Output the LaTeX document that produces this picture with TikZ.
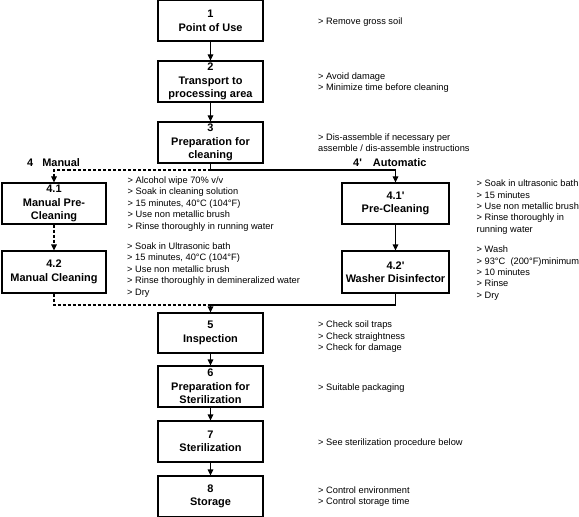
\documentclass[tikz,border=0pt]{standalone}
\usepackage{fontspec}
\setmainfont{Liberation Sans}
\usetikzlibrary{arrows.meta}
\newcommand{\notelines}[1]{\begin{tabular}[t]{@{}l@{}}#1\end{tabular}}
\begin{document}
\begin{tikzpicture}[x=1bp,y=-1bp,
  box/.style={draw, line width=1.1bp, align=center, inner sep=0pt,
    font=\fontsize{11}{13.5}\selectfont\bfseries, minimum width=105bp, minimum height=41bp,
    execute at begin node={\rule{0pt}{11bp}}},
  note/.style={anchor=base west, inner sep=0pt, font=\fontsize{9.3}{11.5}\selectfont},
  grp/.style={anchor=base west, inner sep=0pt, font=\fontsize{11}{13.5}\selectfont\bfseries},
  link/.style={line width=1.1bp},
  arr/.style={link, -{Triangle[width=5.5bp,length=6bp]}},
  dsh/.style={dash pattern=on 3bp off 2bp},
]
\useasboundingbox (0,0) rectangle (579,517);
% central boxes
\node[box, minimum height=40.5bp] (b1) at (210.5,20.75) {1\\Point of Use};
\node[box] (b2) at (210.5,81.5) {2\\Transport to\\processing area};
\node[box] (b3) at (210.5,142.5) {3\\Preparation for\\cleaning};
\node[box, minimum width=104bp] (b41) at (54,203.5) {4.1\\Manual Pre-\\Cleaning};
\node[box, minimum width=104bp, minimum height=42bp] (b42) at (54,272) {4.2\\Manual Cleaning};
\node[box, minimum width=107bp] (b41p) at (395.5,203.5) {4.1\textquotesingle\\Pre-Cleaning};
\node[box, minimum width=107bp, minimum height=42bp] (b42p) at (395.5,272) {4.2\textquotesingle\\Washer Disinfector};
\node[box, minimum height=40bp] (b5) at (210.5,333) {5\\Inspection};
\node[box] (b6) at (210.5,386.5) {6\\Preparation for\\Sterilization};
\node[box] (b7) at (210.5,441.5) {7\\Sterilization};
\node[box, minimum height=40.5bp] (b8) at (210.5,496.25) {8\\Storage};
% group labels
\node[grp] (gm) at (27,166.3) {4\hspace{9bp}Manual};
\node[grp] (ga) at (353,166.3) {4\textquotesingle\hspace{11bp}Automatic};
% notes
\node[note] (n1) at (318,24.3) {\notelines{> Remove gross soil}};
\node[note] (n2) at (318,79.3) {\notelines{> Avoid damage\\> Minimize time before cleaning}};
\node[note] (n3) at (318,140.3) {\notelines{> Dis-assemble if necessary per\\assemble / dis-assemble instructions}};
\node[note] (nl1) at (127.5,183.3) {\notelines{> Alcohol wipe 70\% v/v\\> Soak in cleaning solution\\> 15 minutes, 40°C (104°F)\\> Use non metallic brush\\> Rinse thoroughly in running water}};
\node[note] (nl2) at (127,249.3) {\notelines{> Soak in Ultrasonic bath\\> 15 minutes, 40°C (104°F)\\> Use non metallic brush\\> Rinse thoroughly in demineralized water\\> Dry}};
\node[note] (nr1) at (476.5,186.6) {\notelines{> Soak in ultrasonic bath\\> 15 minutes\\> Use non metallic brush\\> Rinse thoroughly in\\running water}};
\node[note] (nr2) at (476.5,252.6) {\notelines{> Wash\\> 93°C\ \ (200°F)minimum\\> 10 minutes\\> Rinse\\> Dry}};
\node[note] (n5) at (318,327.6) {\notelines{> Check soil traps\\> Check straightness\\> Check for damage}};
\node[note] (n6) at (318,390.6) {\notelines{> Suitable packaging}};
\node[note] (n7) at (318,445) {\notelines{> See sterilization procedure below}};
\node[note] (n8) at (318,493.3) {\notelines{> Control environment\\> Control storage time}};
% connectors
\draw[arr] (b1.south) -- (b2.north);
\draw[arr] (b2.south) -- (b3.north);
\coordinate (split) at (210.5,170);
\draw[link] (b3.south) -- (split);
\draw[arr,dsh] (split) -| (b41.north);
\draw[arr] (split) -| (b41p.north);
\draw[arr,dsh] (b41.south) -- (b42.north);
\draw[arr] (b41p.south) -- (b42p.north);
\coordinate (join) at (210.5,305);
\draw[link,dsh] (b42.south) |- (join);
\draw[link] (b42p.south) |- (join);
\draw[arr] (join) -- (b5.north);
\draw[arr] (b5.south) -- (b6.north);
\draw[arr] (b6.south) -- (b7.north);
\draw[arr] (b7.south) -- (b8.north);
\end{tikzpicture}
\end{document}
